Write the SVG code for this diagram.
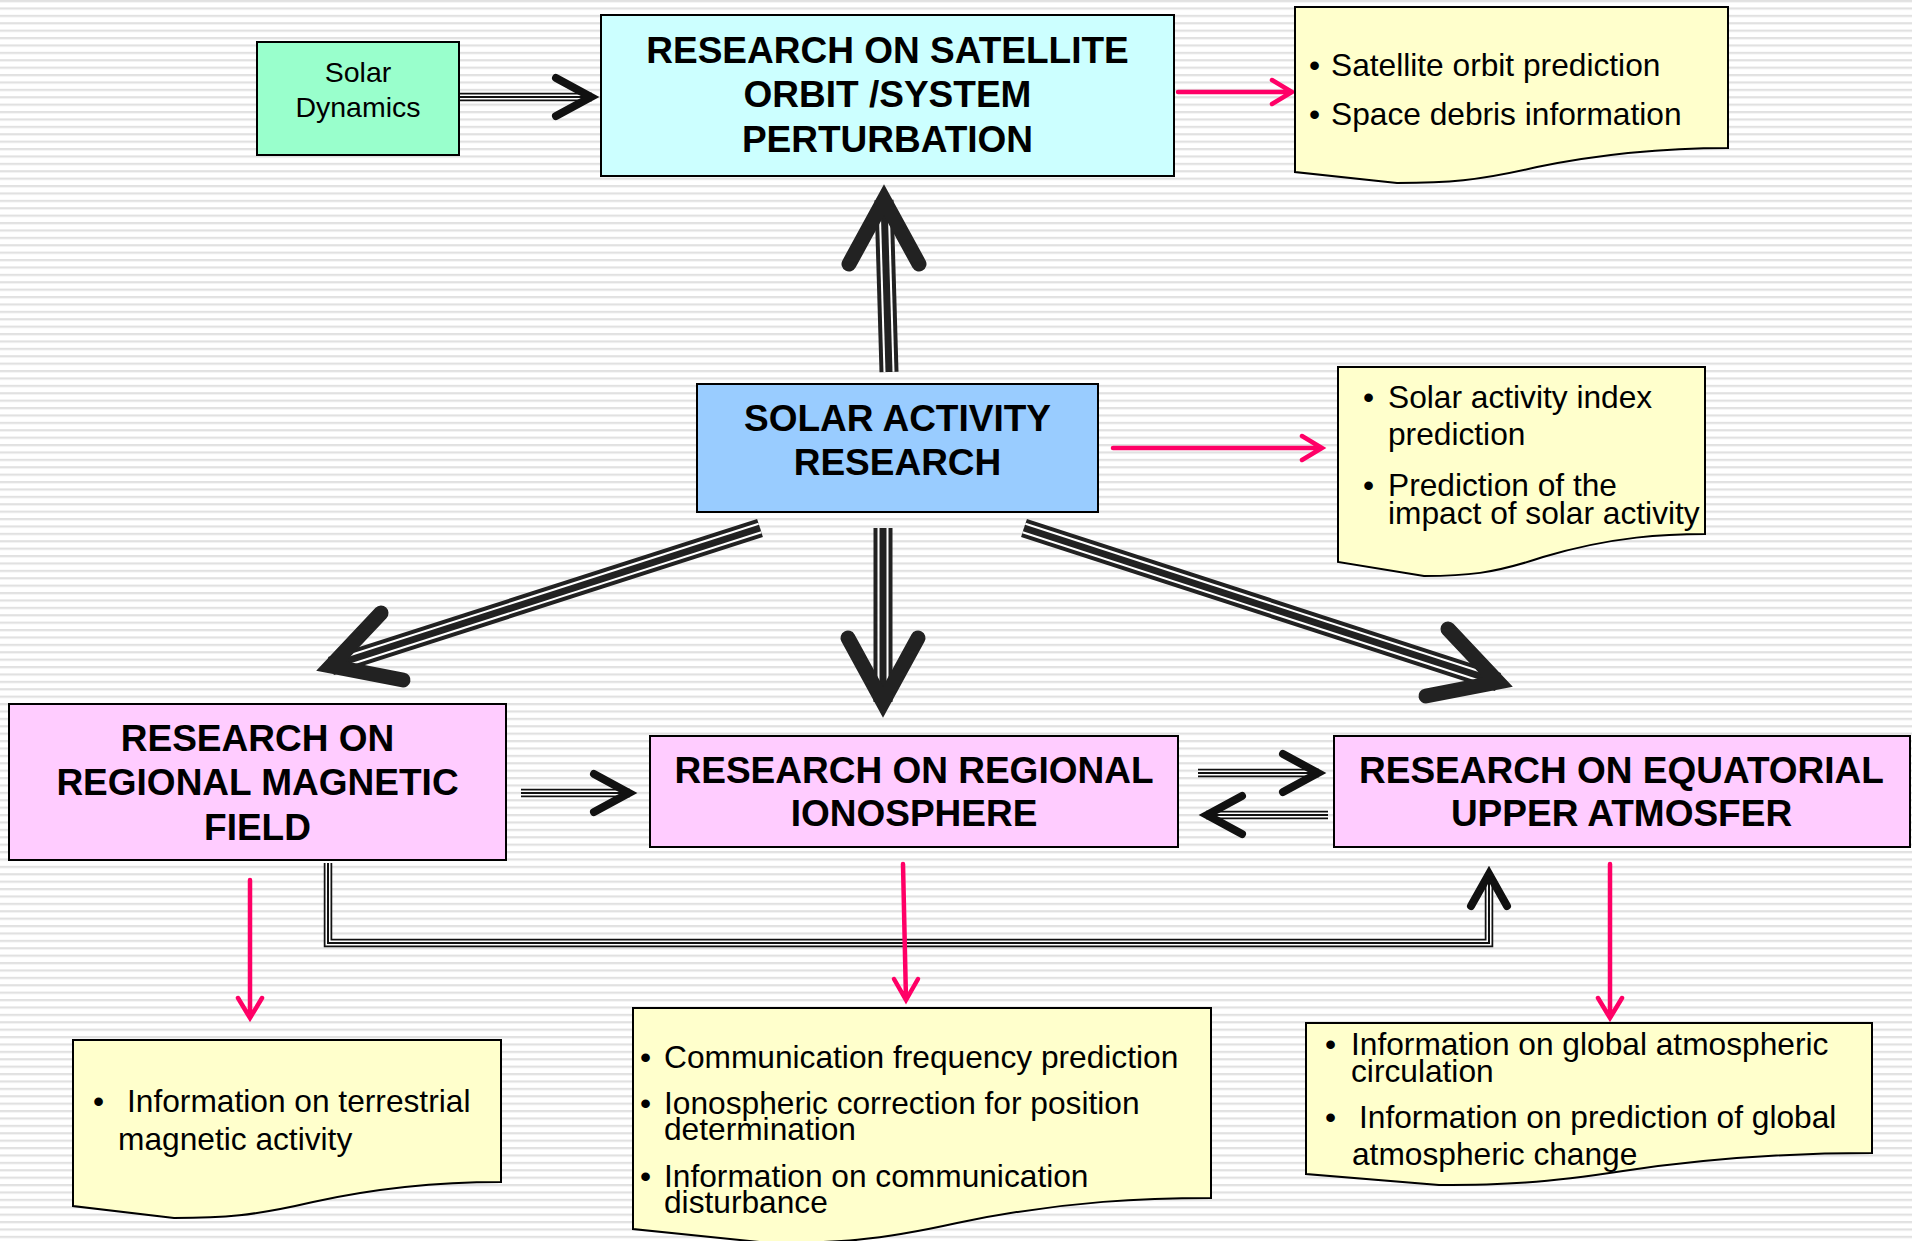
<svg xmlns="http://www.w3.org/2000/svg" xmlns:xlink="http://www.w3.org/1999/xlink" width="1912" height="1241" viewBox="0 0 1912 1241">
<defs>
<style>
.box{stroke:#000;stroke-width:2}
.title{font-family:"Liberation Sans",Arial,sans-serif;font-weight:bold;font-size:37px;text-anchor:middle;fill:#000}
.sd{font-family:"Liberation Sans",Arial,sans-serif;font-size:28.5px;text-anchor:middle;fill:#000}
.note{fill:#ffffcc;stroke:#000;stroke-width:2}
.nt{font-family:"Liberation Sans",Arial,sans-serif;font-size:31.7px;fill:#000}
.pk{stroke:#ff0066;stroke-width:4.5;fill:none;stroke-linecap:round;stroke-linejoin:miter}
.bo{stroke:#222;stroke-width:19;fill:none}
.bw{stroke:#fff;stroke-width:11;fill:none}
.bi{stroke:#222;stroke-width:7;fill:none}
.so{stroke:#111;stroke-width:8.5;fill:none;stroke-linejoin:miter}
.sw{stroke:#fff;stroke-width:5;fill:none;stroke-linejoin:miter}
.si{stroke:#111;stroke-width:2;fill:none;stroke-linejoin:miter}
.bh{stroke:#222;stroke-width:15;fill:none;stroke-linecap:round;stroke-linejoin:miter;stroke-miterlimit:6}
.sh{stroke:#111;stroke-width:8;fill:none;stroke-linecap:round;stroke-linejoin:miter;stroke-miterlimit:6}
</style>
<pattern id="stripes" width="40" height="7.4" patternUnits="userSpaceOnUse">
<rect width="40" height="7.4" fill="#ffffff"/>
<rect y="0" width="40" height="2.2" fill="#e1e1e1"/>
</pattern>
<path id="c_up" d="M889,372 L884,200"/>
<path id="c_dl" d="M760,528 L331,666"/>
<path id="c_dn" d="M883,528 L883,702"/>
<path id="c_dr" d="M1024,528 L1498,682"/>
<path id="s1" d="M459,97 H592"/>
<path id="s2" d="M521,793 H630"/>
<path id="s3" d="M1198,773 H1319"/>
<path id="s4" d="M1328,815 H1206"/>
<path id="s5" d="M328,863 V943 H1489 V874"/>
</defs>
<rect width="1912" height="1241" fill="url(#stripes)"/>

<g id="connectors">
<use xlink:href="#c_up" class="bo"/><use xlink:href="#c_up" class="bw"/><use xlink:href="#c_up" class="bi"/>
<use xlink:href="#c_dl" class="bo"/><use xlink:href="#c_dl" class="bw"/><use xlink:href="#c_dl" class="bi"/>
<use xlink:href="#c_dn" class="bo"/><use xlink:href="#c_dn" class="bw"/><use xlink:href="#c_dn" class="bi"/>
<use xlink:href="#c_dr" class="bo"/><use xlink:href="#c_dr" class="bw"/><use xlink:href="#c_dr" class="bi"/>
<path class="bh" d="M849,264 L884,200 L919,264"/>
<path class="bh" d="M381,613 L331,666 L403,680"/>
<path class="bh" d="M848,638 L883,702 L918,638"/>
<path class="bh" d="M1448,629 L1498,682 L1426,696"/>

<use xlink:href="#s1" class="so"/><use xlink:href="#s1" class="sw"/><use xlink:href="#s1" class="si"/>
<use xlink:href="#s2" class="so"/><use xlink:href="#s2" class="sw"/><use xlink:href="#s2" class="si"/>
<use xlink:href="#s3" class="so"/><use xlink:href="#s3" class="sw"/><use xlink:href="#s3" class="si"/>
<use xlink:href="#s4" class="so"/><use xlink:href="#s4" class="sw"/><use xlink:href="#s4" class="si"/>
<use xlink:href="#s5" class="so"/><use xlink:href="#s5" class="sw"/><use xlink:href="#s5" class="si"/>
<path class="sh" d="M556,78 L591,97 L556,116"/>
<path class="sh" d="M594,774 L629,793 L594,812"/>
<path class="sh" d="M1283,754 L1318,773 L1283,792"/>
<path class="sh" d="M1242,796 L1207,815 L1242,834"/>
<path class="sh" d="M1471,906 L1489,874 L1507,906"/>

<path class="pk" d="M1178,92 H1291 M1272,80 L1292,92 L1272,104"/>
<path class="pk" d="M1113,448 H1320 M1302,436 L1322,448 L1302,460"/>
<path class="pk" d="M250,880 V1018 M238,998 L250,1018 L262,998"/>
<path class="pk" d="M903,864 L906,1000 M894,979 L906,1000 L918,979"/>
<path class="pk" d="M1610,864 V1018 M1598,998 L1610,1018 L1622,998"/>
</g>

<g id="solar-dynamics">
<rect class="box" x="257" y="42" width="202" height="113" fill="#99ffcc"/>
<text class="sd" x="358" y="82">Solar</text>
<text class="sd" x="358" y="117">Dynamics</text>
</g>

<g id="satellite">
<rect class="box" x="601" y="15" width="573" height="161" fill="#ccffff"/>
<text class="title" x="887.5" y="63">RESEARCH ON SATELLITE</text>
<text class="title" x="887.5" y="107">ORBIT /SYSTEM</text>
<text class="title" x="887.5" y="152">PERTURBATION</text>
</g>

<g id="solar-activity">
<rect class="box" x="697" y="384" width="401" height="128" fill="#99ccff"/>
<text class="title" x="897.5" y="431">SOLAR ACTIVITY</text>
<text class="title" x="897.5" y="475">RESEARCH</text>
</g>

<g id="magnetic">
<rect class="box" x="9" y="704" width="497" height="156" fill="#ffccff"/>
<text class="title" x="257.5" y="751">RESEARCH ON</text>
<text class="title" x="257.5" y="795">REGIONAL MAGNETIC</text>
<text class="title" x="257.5" y="840">FIELD</text>
</g>

<g id="ionosphere">
<rect class="box" x="650" y="736" width="528" height="111" fill="#ffccff"/>
<text class="title" x="914" y="783">RESEARCH ON REGIONAL</text>
<text class="title" x="914" y="826">IONOSPHERE</text>
</g>

<g id="equatorial">
<rect class="box" x="1334" y="736" width="576" height="111" fill="#ffccff"/>
<text class="title" x="1621.5" y="783">RESEARCH ON EQUATORIAL</text>
<text class="title" x="1621.5" y="826">UPPER ATMOSFER</text>
</g>

<g id="note-satellite">
<path class="note" d="M1295,7 H1728 V148 C1685,148 1620,150 1537,167 C1477,181 1447,183 1397,183 L1295,172 Z"/>
<text class="nt"><tspan x="1309" y="76">•</tspan><tspan x="1331" y="76">Satellite orbit prediction</tspan></text>
<text class="nt"><tspan x="1309" y="125">•</tspan><tspan x="1331" y="125">Space debris information</tspan></text>
</g>

<g id="note-solar">
<path class="note" d="M1338,367 H1705 V534 C1668,534 1613,536 1543,557 C1492,574 1466,576 1424,576 L1338,562 Z"/>
<text class="nt"><tspan x="1363" y="408">•</tspan><tspan x="1388" y="408">Solar activity index</tspan></text>
<text class="nt" x="1388" y="445">prediction</text>
<text class="nt"><tspan x="1363" y="496">•</tspan><tspan x="1388" y="496">Prediction of the</tspan></text>
<text class="nt" x="1388" y="524">impact of solar activity</text>
</g>

<g id="note-magnetic">
<path class="note" d="M73,1040 H501 V1182 C458,1182 394,1184 313,1202 C253,1216 223,1218 174,1218 L73,1206 Z"/>
<text class="nt"><tspan x="93" y="1112">•</tspan><tspan x="127" y="1112">Information on terrestrial</tspan></text>
<text class="nt" x="118" y="1150">magnetic activity</text>
</g>

<g id="note-ionosphere">
<path class="note" d="M633,1008 H1211 V1198 C1153,1198 1066,1200 957,1223 C876,1241 835,1243 769,1243 L633,1229 Z"/>
<text class="nt"><tspan x="640" y="1068">•</tspan><tspan x="664" y="1068">Communication frequency prediction</tspan></text>
<text class="nt"><tspan x="640" y="1114">•</tspan><tspan x="664" y="1114">Ionospheric correction for position</tspan></text>
<text class="nt" x="664" y="1140">determination</text>
<text class="nt"><tspan x="640" y="1187">•</tspan><tspan x="664" y="1187">Information on communication</tspan></text>
<text class="nt" x="664" y="1213">disturbance</text>
</g>

<g id="note-equatorial">
<path class="note" d="M1306,1023 H1872 V1153 C1815,1153 1730,1155 1623,1171 C1544,1183 1504,1185 1439,1185 L1306,1174 Z"/>
<text class="nt"><tspan x="1325" y="1055">•</tspan><tspan x="1351" y="1055">Information on global atmospheric</tspan></text>
<text class="nt" x="1351" y="1082">circulation</text>
<text class="nt"><tspan x="1325" y="1128">•</tspan><tspan x="1359" y="1128">Information on prediction of global</tspan></text>
<text class="nt" x="1352" y="1165">atmospheric change</text>
</g>
</svg>
